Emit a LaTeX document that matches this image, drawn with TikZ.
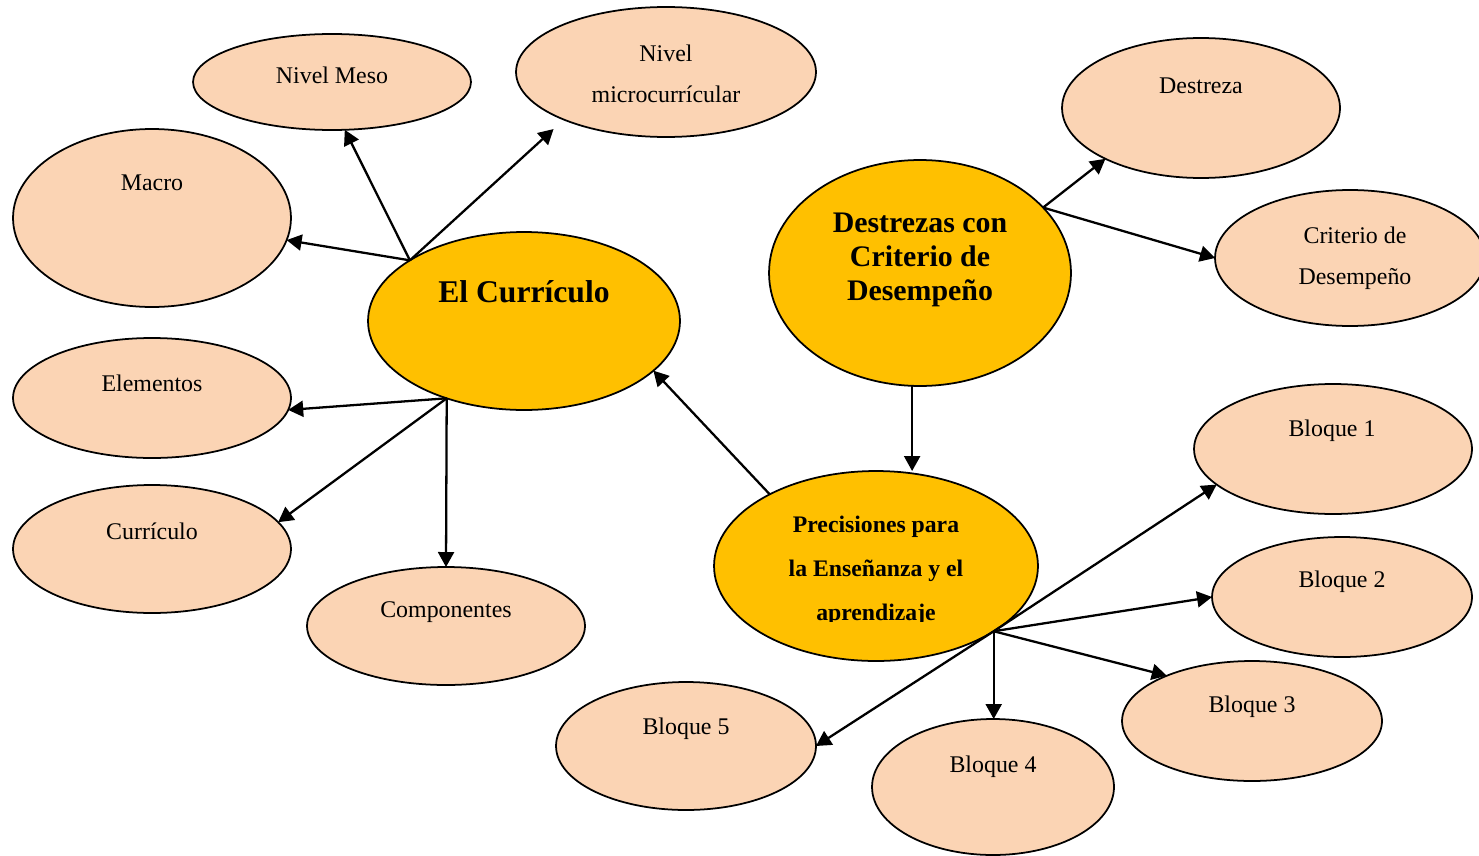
\documentclass[tikz,border=0pt]{standalone}
\usepackage{fontspec}
\setmainfont{Liberation Serif}
\usetikzlibrary{shapes.geometric, arrows.meta}
\definecolor{peach}{HTML}{FBD4B4}
\definecolor{gold}{HTML}{FFC000}
\tikzset{
  bubble/.style={shape=ellipse, draw, line width=1pt, fill=peach, inner sep=0pt, outer sep=0pt},
  bigbubble/.style={bubble, fill=gold},
  word/.style={font=\fontsize{13.6}{23.2}\selectfont, align=center, inner sep=0pt},
  link/.style={->, line width=1.3pt},
}

\begin{document}
\begin{tikzpicture}[x=0.02cm, y=-0.02cm, >={Triangle[length=0.3cm, width=0.32cm]}]
\useasboundingbox (0, 0) rectangle (1479, 855);
\node at (332, 82) [bubble, minimum width=5.56cm, minimum height=1.92cm] (meso) {};
\node at (666, 72) [bubble, minimum width=6cm, minimum height=2.6cm] (micro) {};
\node at (152, 218) [bubble, minimum width=5.56cm, minimum height=3.56cm] (macro) {};
\node at (524, 321) [bigbubble, minimum width=6.24cm, minimum height=3.56cm] (main) {};
\node at (152, 398) [bubble, minimum width=5.56cm, minimum height=2.4cm] (elementos) {};
\node at (152, 549) [bubble, minimum width=5.56cm, minimum height=2.56cm] (curric) {};
\node at (446, 626) [bubble, minimum width=5.56cm, minimum height=2.36cm] (componentes) {};
\node at (920, 273) [bigbubble, minimum width=6.04cm, minimum height=4.52cm] (destrezas) {};
\node at (1201, 108) [bubble, minimum width=5.56cm, minimum height=2.8cm] (destreza) {};
\node at (1350, 258) [bubble, minimum width=5.4cm, minimum height=2.72cm] (criterio) {};
\node at (876, 566) [bigbubble, minimum width=6.48cm, minimum height=3.8cm] (prec) {};
\node at (1333, 449) [bubble, minimum width=5.56cm, minimum height=2.6cm] (bloque1) {};
\node at (1342, 597) [bubble, minimum width=5.2cm, minimum height=2.4cm] (bloque2) {};
\node at (1252, 721) [bubble, minimum width=5.2cm, minimum height=2.4cm] (bloque3) {};
\node at (993, 787) [bubble, minimum width=4.84cm, minimum height=2.72cm] (bloque4) {};
\node at (686, 746) [bubble, minimum width=5.2cm, minimum height=2.56cm] (bloque5) {};

\node at (332, 75) [word] (mesotxt) {Nivel Meso};
\node at (666, 74) [word] (microtxt) {Nivel\\microcurrícular};
\node at (152, 183) [word] (macrotxt) {Macro};
\node at (524, 292) [word, font=\bfseries\fontsize{18}{21}\selectfont] (maintxt) {El Currículo};
\node at (152, 383) [word] (elementostxt) {Elementos};
\node at (152, 531) [word] (currictxt) {Currículo};
\node at (446, 612) [word] (componentestxt) {Componentes};
\node at (920, 260) [word, font=\bfseries\fontsize{17}{19.3}\selectfont] (destrezastxt) {Destrezas con\\Criterio de\\Desempeño};
\node at (1201, 86) [word] (destrezatxt) {Destreza};
\node at (1355, 258) [word] (criteriotxt) {Criterio de\\Desempeño};
\begin{scope}
\clip (700, 490) rectangle (1050, 621);
\node at (876, 571) [word, font=\bfseries\fontsize{13.5}{25}\selectfont] (prectxt) {Precisiones para\\la Enseñanza y el\\aprendizaje};
\end{scope}
\node at (1332, 431) [word] (bloque1txt) {Bloque 1};
\node at (1342, 582) [word] (bloque2txt) {Bloque 2};
\node at (1252, 707) [word] (bloque3txt) {Bloque 3};
\node at (993, 767) [word] (bloque4txt) {Bloque 4};
\node at (686, 729) [word] (bloque5txt) {Bloque 5};

\coordinate (hubA) at (main.152);
\coordinate (hubB) at (main.225);
\coordinate (hubC) at (destrezas.28);
\coordinate (hubD) at (prec.-29);

\draw [link] (hubA) to (meso.-75);
\draw [link, shorten >=0.28cm] (hubA) to (micro.205);
\draw [link] (hubA) to (macro);
\draw [link] (hubB) to (elementos.-5);
\draw [link] (hubB) to (curric.12);
\draw [link] (hubB) to (componentes.north);
\draw [link] (prec.146) to (main.-21);
\draw [link] (hubC) to (destreza.208);
\draw [link] (hubC) to (criterio.west);
\draw [link] (destrezas.266) to (destrezas.266 |- prec.north);
\draw [link] (hubD) to (bloque1.197);
\draw [link] (hubD) to (bloque2.west);
\draw [link] (hubD) to (bloque3.152);
\draw [link] (hubD) to (hubD |- bloque4.north);
\draw [link] (hubD) to (bloque5.east);
\end{tikzpicture}
\end{document}
